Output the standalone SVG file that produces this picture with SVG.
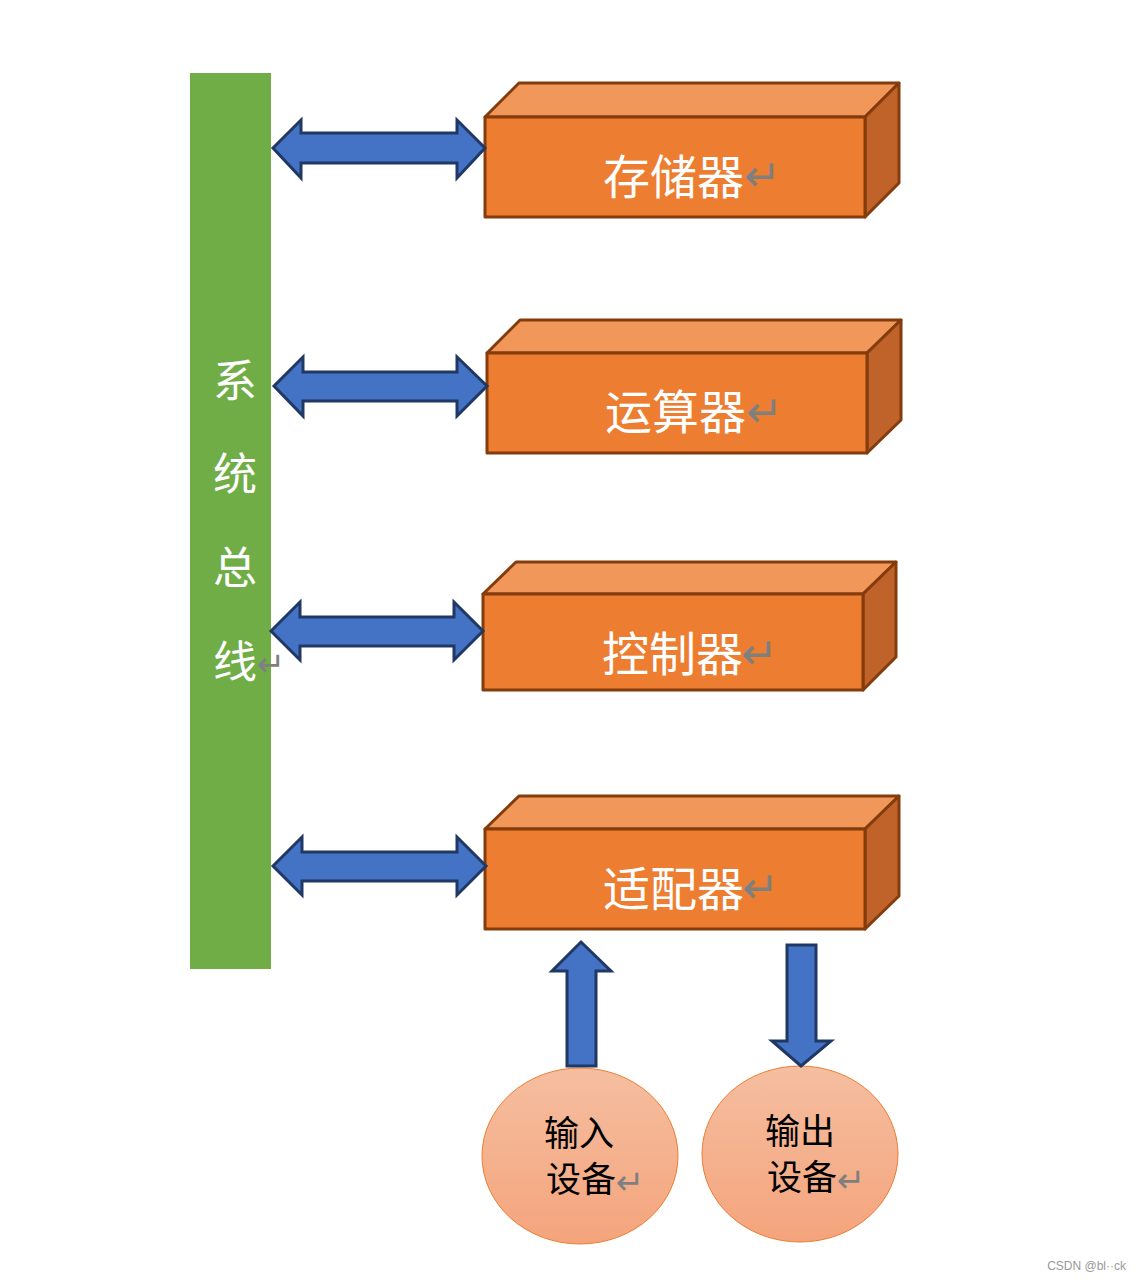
<svg xmlns="http://www.w3.org/2000/svg" width="1141" height="1280" viewBox="0 0 1141 1280">
<defs>
<style>
.front{fill:#ED7D31;stroke:#843C0C;stroke-width:3;stroke-linejoin:round}
.top{fill:#F1975A;stroke:#843C0C;stroke-width:3;stroke-linejoin:round}
.side{fill:#C0632A;stroke:#843C0C;stroke-width:3;stroke-linejoin:round}
.arrow{fill:#4472C4;stroke:#1F3864;stroke-width:3;stroke-linejoin:miter}
.lbl{font-family:"Noto Sans CJK SC","Noto Sans",sans-serif;fill:#FFFFFF;font-size:47px}
.vlbl{font-family:"Noto Sans CJK SC","Noto Sans",sans-serif;fill:#FFFFFF;font-size:44px}
.ret{font-family:"DejaVu Sans",sans-serif;fill:#7F7F7F;font-size:44px}
.sret{font-family:"DejaVu Sans",sans-serif;fill:#7F7F7F;font-size:34px}
.dev{font-family:"Noto Sans CJK SC","Noto Sans",sans-serif;fill:#000000;font-size:35px}
.circ{fill:url(#g);stroke:#ED7D31;stroke-width:1}
</style>
<linearGradient id="g" x1="0" y1="0" x2="0" y2="1">
<stop offset="0" stop-color="#F5BEA0"/>
<stop offset="1" stop-color="#F4A47C"/>
</linearGradient>
</defs>
<rect width="1141" height="1280" fill="#FFFFFF"/>

<g id="bus">
<rect x="190" y="73" width="81" height="896" fill="#70AD47"/>
<text class="vlbl" x="235" y="397" text-anchor="middle">系</text>
<text class="vlbl" x="235" y="490" text-anchor="middle">统</text>
<text class="vlbl" x="235" y="584" text-anchor="middle">总</text>
<text class="vlbl" x="235" y="678" text-anchor="middle">线</text>
<text class="sret" x="257" y="676">↵</text>
</g>

<g id="memory">
<polygon class="top" points="485,117 519,83 899,83 865,117"/>
<polygon class="side" points="865,117 899,83 899,183 865,217"/>
<rect class="front" x="485" y="117" width="380" height="100"/>
<text class="lbl" x="603" y="194">存储器</text>
<text class="ret" x="744" y="191">↵</text>
</g>

<g id="alu">
<polygon class="top" points="487,353 520,320 901,320 867,353"/>
<polygon class="side" points="867,353 901,320 901,420 867,453"/>
<rect class="front" x="487" y="353" width="380" height="100"/>
<text class="lbl" x="605" y="429">运算器</text>
<text class="ret" x="746" y="427">↵</text>
</g>

<g id="controller">
<polygon class="top" points="483,594 516,562 896,562 863,594"/>
<polygon class="side" points="863,594 896,562 896,657 863,690"/>
<rect class="front" x="483" y="594" width="380" height="96"/>
<text class="lbl" x="602" y="671">控制器</text>
<text class="ret" x="741" y="669">↵</text>
</g>

<g id="adapter">
<polygon class="top" points="485,829 519,796 899,796 865,829"/>
<polygon class="side" points="865,829 899,796 899,896 865,929"/>
<rect class="front" x="485" y="829" width="380" height="100"/>
<text class="lbl" x="603" y="906">适配器</text>
<text class="ret" x="742" y="903">↵</text>
</g>

<g id="input-device">
<ellipse class="circ" cx="580" cy="1156" rx="98" ry="88"/>
<text class="dev" x="544" y="1146">输入</text>
<text class="dev" x="546" y="1192">设备</text>
<text class="sret" x="616" y="1194">↵</text>
</g>

<g id="output-device">
<ellipse class="circ" cx="800" cy="1154" rx="98" ry="88"/>
<text class="dev" x="765" y="1144">输出</text>
<text class="dev" x="767" y="1190">设备</text>
<text class="sret" x="837" y="1192">↵</text>
</g>

<g id="connectors">
<polygon class="arrow" points="273,148 301,120 301,133 457,133 457,120 485,148 457,178 457,163 301,163 301,178"/>
<polygon class="arrow" points="274,386 303,357 303,372 457,372 457,357 487,386 457,416 457,401 303,401 303,416"/>
<polygon class="arrow" points="271,631 300,602 300,617 454,617 454,602 483,631 454,660 454,646 300,646 300,660"/>
<polygon class="arrow" points="273,866 302,837 302,852 457,852 457,837 486,866 457,895 457,881 302,881 302,895"/>
<polygon class="arrow" points="581,942 611,971 596,971 596,1066 567,1066 567,971 552,971"/>
<polygon class="arrow" points="787,945 816,945 816,1041 831,1041 801,1066 772,1041 787,1041"/>
</g>

<text x="1126" y="1270" text-anchor="end" font-family="Liberation Sans, sans-serif" font-size="12" fill="#999999">CSDN @bl··ck</text>
</svg>
